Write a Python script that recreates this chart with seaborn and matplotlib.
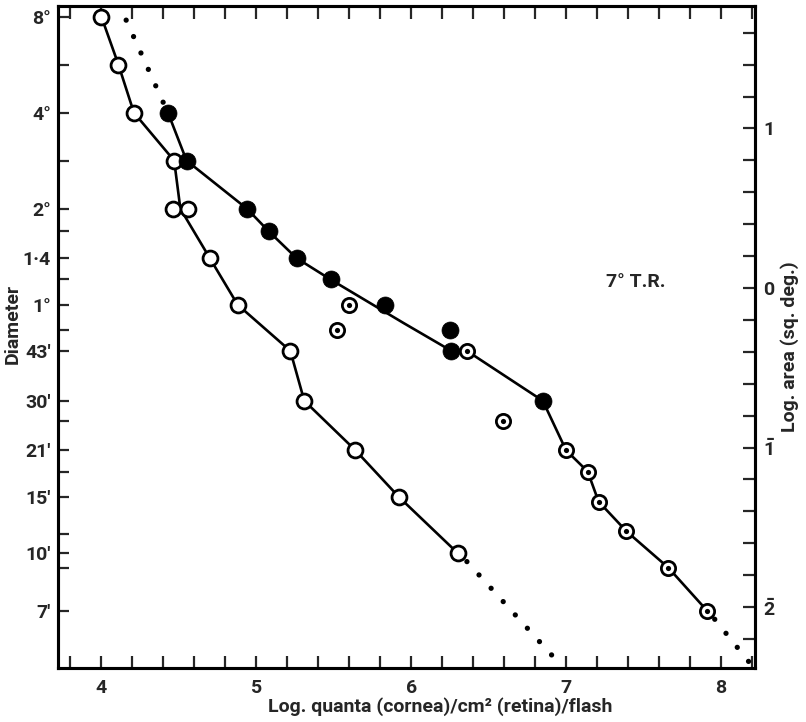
import numpy as np
import pandas as pd
import matplotlib
matplotlib.use("Agg")
import matplotlib.pyplot as plt
import seaborn as sns

# --- data (x: log quanta, d: stimulus diameter in degrees) ---
open_x = [4.0, 4.11, 4.21, 4.47, 4.46, 4.56, 4.70, 4.88, 5.22, 5.31, 5.64, 5.92, 6.30]
open_d = [8, 5.66, 4, 2.83, 2, 2, 1.4, 1, 43/60, 30/60, 21/60, 15/60, 10/60]
open_line_x = [4.0, 4.11, 4.21, 4.47, 4.51, 4.70, 4.88, 5.22, 5.31, 5.64, 5.92, 6.30]
open_line_d = [8, 5.66, 4, 2.83, 2, 1.4, 1, 43/60, 30/60, 21/60, 15/60, 10/60]

filled_x = [4.43, 4.55, 4.94, 5.08, 5.26, 5.48, 5.83, 6.25, 6.26, 6.85]
filled_d = [4, 2.83, 2, 1.7, 1.4, 1.2, 1, 50/60, 43/60, 30/60]

ring_x = [5.60, 5.52, 6.36, 6.59, 7.00, 7.14, 7.21, 7.39, 7.66, 7.91]
ring_d = [1, 50/60, 43/60, 26/60, 21/60, 18/60, 14.5/60, 11.7/60, 9/60, 6.6/60]

mid_line_x = [4.43, 4.55, 4.94, 5.08, 5.26, 5.48, 5.95, 6.26, 6.36, 6.85,
              7.00, 7.14, 7.21, 7.39, 7.66, 7.91]
mid_line_d = [4, 2.83, 2, 1.7, 1.4, 1.2, 0.877, 43/60, 43/60, 30/60,
              21/60, 18/60, 14.5/60, 11.7/60, 9/60, 6.6/60]

# dotted extrapolations
dot_upper_x = [4.16, 4.40]
dot_upper_d = [7.8, 4.3]
dot_lower_x = [6.36, 6.94]
dot_lower_d = [9.4/60, 4.6/60]
dot_right_x = [7.96, 8.19]
dot_right_d = [6.2/60, 4.5/60]

# axis ticks
diam_ticks = [8, 4, 2, 1.4, 1, 43/60, 30/60, 21/60, 15/60, 10/60, 6.6/60]
diam_labels = ["8°", "4°", "2°", "1·4", "1°", "43′", "30′", "21′", "15′", "10′", "7′"]
diam_minor = [5.66, 2.83, 1.7, 1.2, 50/60, 26/60, 18/60, 11.5/60, 9/60]
area_ticks = [1, 0, -1, -2]
area_labels = ["1", "0", r"$\bar{1}$", r"$\bar{2}$"]
x_ticks = [4, 5, 6, 7, 8]


def log_area(d):
    """diameter (deg) -> log10 area (sq. deg)"""
    d = np.asarray(d, dtype=float)
    return np.log10(np.pi / 4 * d ** 2)


def frame(x, d):
    return pd.DataFrame({"x": x, "y": log_area(d)})


sns.set_style("ticks")
plt.rcParams["font.family"] = ["Roboto", "DejaVu Sans"]
plt.rcParams["font.weight"] = "bold"
plt.rcParams["mathtext.fontset"] = "custom"
plt.rcParams["mathtext.rm"] = "Roboto:bold"
plt.rcParams["mathtext.bf"] = "Roboto:bold"
plt.rcParams["mathtext.it"] = "Roboto:bold"

W, H = 806, 722
fig = plt.figure(figsize=(W / 100, H / 100), dpi=100)
ax = fig.add_axes([58 / W, 54 / H, (755 - 58) / W, (668 - 5.5) / H])

LW = 1.9
DOTS = (0, (0.01, 3.4))

# lines
for lx, ld in [(open_line_x, open_line_d), (mid_line_x, mid_line_d)]:
    sns.lineplot(data=frame(lx, ld), x="x", y="y", sort=False, estimator=None,
                 color="black", lw=LW, ax=ax, zorder=2)
for lx, ld in [(dot_upper_x, dot_upper_d), (dot_lower_x, dot_lower_d), (dot_right_x, dot_right_d)]:
    sns.lineplot(data=frame(lx, ld), x="x", y="y", sort=False, estimator=None,
                 color="black", lw=3.8, linestyle=DOTS, dash_capstyle="round",
                 ax=ax, zorder=2)

# markers
sns.scatterplot(data=frame(open_x, open_d), x="x", y="y", marker="o", s=115,
                facecolor="white", edgecolor="black", linewidth=2.0, ax=ax, zorder=4)
sns.scatterplot(data=frame(filled_x, filled_d), x="x", y="y", marker="o", s=150,
                color="black", edgecolor="black", linewidth=0.5, ax=ax, zorder=4)
sns.scatterplot(data=frame(ring_x, ring_d), x="x", y="y", marker="o", s=105,
                facecolor="white", edgecolor="black", linewidth=2.0, ax=ax, zorder=4)
sns.scatterplot(data=frame(ring_x, ring_d), x="x", y="y", marker="o", s=14,
                color="black", edgecolor="black", linewidth=0, ax=ax, zorder=5)

ax.set_xlim(3.72, 8.22)
ax.set_ylim(-2.382, 1.771)
ax.set_xlabel("")
ax.set_ylabel("")

# x axis: labelled integers, ticks every 0.2 top and bottom
ax.set_xticks(x_ticks)
ax.set_xticklabels([str(t) for t in x_ticks], fontsize=14, fontweight="bold")
ax.set_xticks(np.arange(3.8, 8.21, 0.2), minor=True)
ax.tick_params(axis="x", which="both", direction="in", top=True, bottom=True,
               length=9, width=1.6, pad=8)

# left: diameter scale
ax.set_yticks(log_area(diam_ticks))
ax.set_yticklabels(diam_labels, fontsize=14, fontweight="bold")
ax.set_yticks(log_area(diam_minor), minor=True)
ax.tick_params(axis="y", which="both", direction="in", left=True, right=False,
               length=8, width=1.6, pad=5)

# right: log area scale
ax2 = ax.twinx()
ax2.set_ylim(ax.get_ylim())
ax2.set_yticks(area_ticks)
ax2.set_yticklabels(area_labels, fontsize=14, fontweight="bold")
ax2.set_yticks([v for v in np.round(np.arange(-2.2, 1.71, 0.2), 1) if v not in area_ticks], minor=True)
ax2.tick_params(axis="y", which="both", direction="in", length=9, width=1.6, pad=6)

for a in (ax, ax2):
    for sp in a.spines.values():
        sp.set_visible(True)
        sp.set_linewidth(2.2)
        sp.set_color("black")

ax.text(7.45, 0.04, "7° T.R.", fontsize=14, fontweight="bold", ha="center", va="center")

fig.text(440 / W, 1 - 707 / H, "Log. quanta (cornea)/cm² (retina)/flash",
         fontsize=14, fontweight="bold", ha="center", va="center")
fig.text(13 / W, 1 - 324 / H, "Diameter", rotation=90,
         fontsize=14, fontweight="bold", ha="center", va="center")
fig.text(790 / W, 1 - 347 / H, "Log. area (sq. deg.)", rotation=90,
         fontsize=14, fontweight="bold", ha="center", va="center")

fig.savefig("out.png", dpi=100, facecolor="white")
